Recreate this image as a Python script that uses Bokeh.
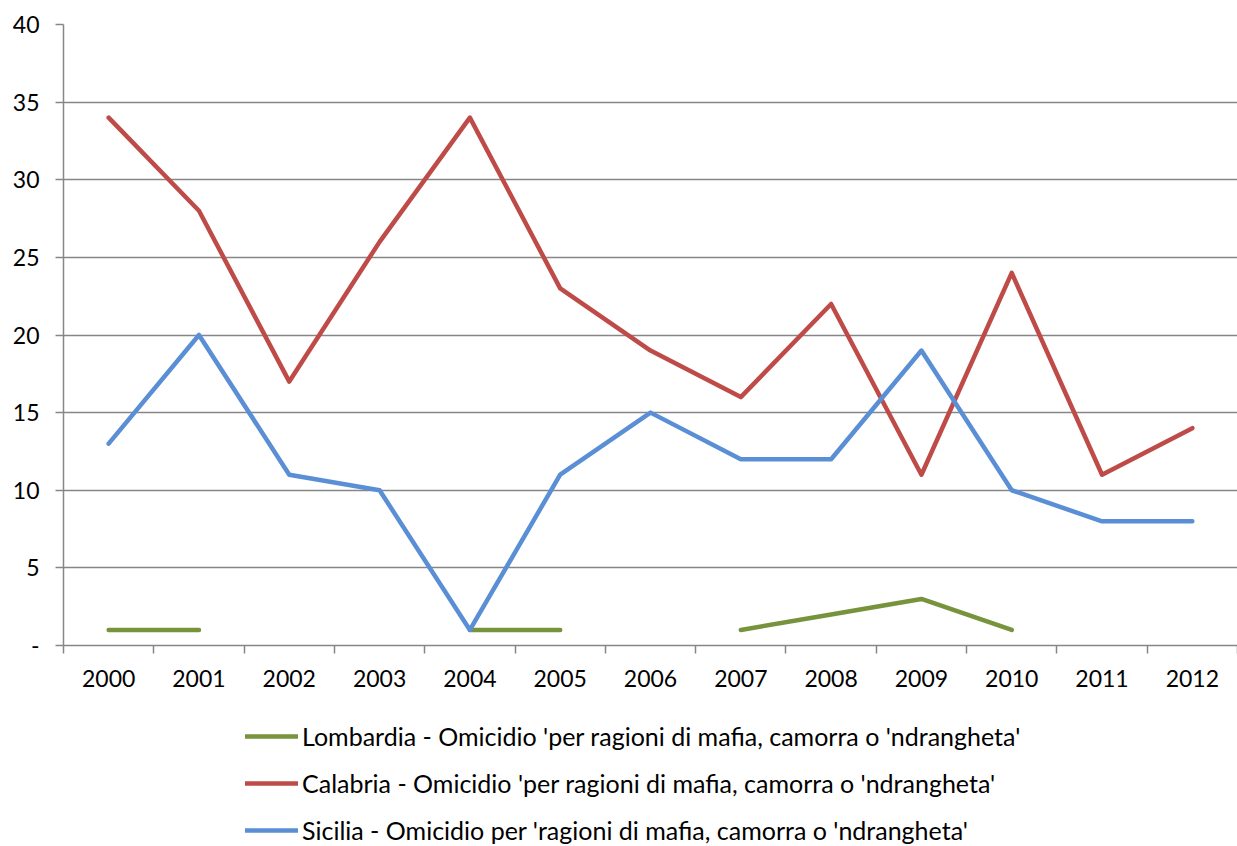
from bokeh.plotting import figure
from bokeh.models import FixedTicker, Legend, LegendItem, Range1d
from bokeh.layouts import column
from bokeh.embed import file_html
from bokeh.resources import INLINE
import numpy as np

years = ["2000", "2001", "2002", "2003", "2004", "2005", "2006",
         "2007", "2008", "2009", "2010", "2011", "2012"]
lombardia = [1, 1, None, None, 1, 1, None, 1, 2, 3, 1, None, None]
calabria = [34, 28, 17, 26, 34, 23, 19, 16, 22, 11, 24, 11, 14]
sicilia = [13, 20, 11, 10, 1, 11, 15, 12, 12, 19, 10, 8, 8]
y_ticks = [0, 5, 10, 15, 20, 25, 30, 35, 40]

labels = [
    "Lombardia - Omicidio 'per ragioni di mafia, camorra o 'ndrangheta'",
    "Calabria - Omicidio 'per ragioni di mafia, camorra o 'ndrangheta'",
    "Sicilia - Omicidio per 'ragioni di mafia, camorra o 'ndrangheta'",
]
colors = ["#77933C", "#BE4B48", "#5A8FD6"]

FONT = "Lato"
GRID = "#868686"

xs = [i + 0.5 for i in range(len(years))]

def nan(v):
    return [np.nan if a is None else a for a in v]

p = figure(output_backend="svg", toolbar_location=None,
           width=1237, height=700,
           min_border_left=63, min_border_top=24, min_border_right=0,
           min_border_bottom=55,
           x_range=Range1d(0, len(years)), y_range=Range1d(0, 40))
p.outline_line_color = None
p.background_fill_color = "white"
p.border_fill_color = "white"

for data, c in zip([lombardia, calabria, sicilia], colors):
    p.line(xs, nan(data), line_color=c, line_width=4.5,
           line_cap="round", line_join="round")

# x axis
xa = p.xaxis[0]
xa.ticker = FixedTicker(ticks=xs, minor_ticks=list(range(len(years) + 1)))
xa.major_label_overrides = {x: y for x, y in zip(xs, years)}
xa.major_tick_out = 0
xa.major_tick_in = 0
xa.minor_tick_out = 8
xa.minor_tick_in = 0
xa.minor_tick_line_color = GRID
xa.minor_tick_line_width = 1.5
xa.axis_line_color = GRID
xa.axis_line_width = 1.5
xa.major_label_standoff = 16
xa.major_label_text_font = FONT
xa.major_label_text_font_size = "23px"
xa.major_label_text_color = "black"

ya = p.yaxis[0]
ya.ticker = FixedTicker(ticks=y_ticks, minor_ticks=[])
ya.major_label_overrides = {0: "-"}
ya.major_tick_out = 8
ya.major_tick_in = 0
ya.major_tick_line_color = GRID
ya.major_tick_line_width = 1.5
ya.axis_line_color = GRID
ya.axis_line_width = 1.5
ya.major_label_standoff = 16
ya.major_label_text_font = FONT
ya.major_label_text_font_size = "23px"
ya.major_label_text_color = "black"

p.xgrid.grid_line_color = None
p.ygrid.grid_line_color = GRID
p.ygrid.grid_line_width = 1.3
p.ygrid.ticker = FixedTicker(ticks=y_ticks)

# legend panel below the chart
q = figure(output_backend="svg", toolbar_location=None,
           width=1237, height=146,
           min_border_left=0, min_border_top=0, min_border_right=0,
           min_border_bottom=0,
           x_range=Range1d(100, 101), y_range=Range1d(100, 101))
q.axis.visible = False
q.grid.visible = False
q.outline_line_color = None
q.border_fill_color = "white"

legend_renderers = []
for data, c in zip([lombardia, calabria, sicilia], colors):
    r = q.line(xs, nan(data), line_color=c, line_width=4.5,
               line_cap="round", line_join="round")
    legend_renderers.append(r)

legend = Legend(items=[LegendItem(label=l, renderers=[r]) for l, r in zip(labels, legend_renderers)],
                orientation="vertical", location=(182, 1),
                label_text_font=FONT, label_text_font_size="25px",
                label_text_color="black",
                glyph_width=53, glyph_height=30, label_height=30,
                label_standoff=4, spacing=17, padding=0, margin=0,
                border_line_color=None, background_fill_alpha=0)
q.add_layout(legend, "center")

layout = column(p, q, spacing=0)
open("out.html", "w").write(file_html(layout, INLINE))
